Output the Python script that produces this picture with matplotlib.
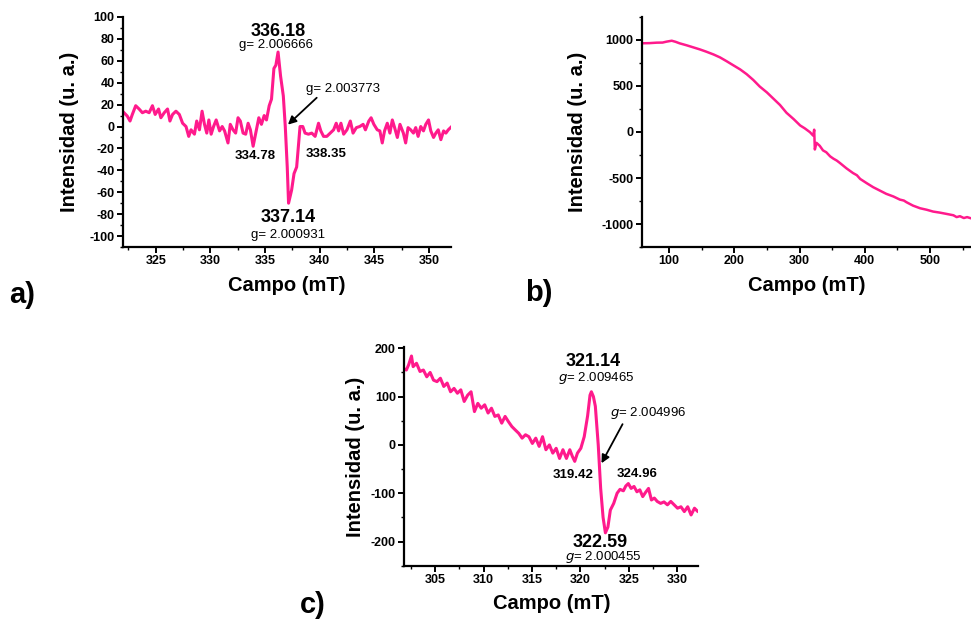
import matplotlib
matplotlib.use("Agg")
import matplotlib.pyplot as plt
from matplotlib.ticker import MultipleLocator, AutoMinorLocator

plt.rcParams['font.family'] = ['Liberation Sans', 'DejaVu Sans']
plt.rcParams['axes.unicode_minus'] = False

PINK = '#FF1A8C'

# ---- (a) EPR spectrum, narrow scan ----
field_a = [322.09, 322.39, 322.64, 322.85, 323.16, 323.47, 323.77, 324.08, 324.39, 324.69,
           324.94, 325.25, 325.46, 325.77, 326.07, 326.29, 326.53, 326.84, 327.15, 327.45,
           327.76, 328.01, 328.22, 328.53, 328.74, 328.99, 329.23, 329.45, 329.66, 329.85,
           330.06, 330.28, 330.52, 330.83, 331.07, 331.29, 331.60, 331.81, 332.06, 332.30,
           332.52, 332.73, 332.98, 333.22, 333.44, 333.65, 333.90, 334.14, 334.42, 334.66,
           334.91, 335.12, 335.37, 335.58, 335.80, 335.98, 336.18, 336.41, 336.66, 336.84,
           337.02, 337.14, 337.42, 337.64, 337.88, 338.19, 338.44, 338.65, 338.96, 339.26,
           339.57, 339.88, 340.09, 340.34, 340.64, 340.95, 341.26, 341.50, 341.72, 341.93,
           342.18, 342.48, 342.79, 343.04, 343.34, 343.65, 343.96, 344.17, 344.48, 344.69,
           344.94, 345.25, 345.49, 345.71, 345.92, 346.17, 346.41, 346.63, 346.84, 347.09,
           347.33, 347.64, 347.85, 348.07, 348.31, 348.56, 348.77, 348.99, 349.23, 349.48,
           349.69, 349.94, 350.15, 350.40, 350.61, 350.83, 351.07, 351.32, 351.53, 351.75,
           352.06]
signal_a = [12.6, 9.5, 5, 11, 19, 16, 12.6, 14, 12.6, 19,
            11, 16, 8, 12.6, 16, 5, 11, 14, 11, 3,
            0, -9, -3, -7, 5, -3, 14, 2, -6, 6,
            -7, 0, 6, -4, 0, -4, -15, 2, -3, -6,
            8, 5, -6, -7, 3, -3, -18, -6, 8, 2,
            10, 6, 19, 25, 53, 56, 68, 46, 28, 0,
            -37, -70, -58, -43, -37, 0, 0, -6, -7, -6,
            -9, 3, -4, -9, -9, -6, -3, 3, -4, 3,
            -7, -3, 5, -6, -1, 0, 2, -3, 5, 8,
            2, -3, -4, -15, -4, 3, -6, 6, -1, -10,
            2, -6, -15, -1, -3, -6, -1, -9, 0, -4,
            2, 6, -4, -10, -6, -3, -12, -4, -6, -3,
            0]

# ---- (b) wide scan ----
field_b = [57, 70, 81, 90, 96, 104, 110, 116, 127, 137, 147, 157, 168, 178, 188, 198,
           209, 219, 229, 239, 250, 260, 270, 280, 291, 301, 308, 316, 321, 322.5,
           323.5, 326, 331, 336, 341, 347, 352, 357, 362, 372, 382, 388, 393, 403,
           413, 423, 433, 444, 454, 460, 464, 474, 485, 495, 505, 515, 526, 536,
           541, 546, 552, 557, 563]
signal_b = [964, 966, 971, 972, 982, 992, 980, 964, 942, 920, 898, 873, 843, 811, 770, 727,
            680, 628, 566, 494, 430, 362, 294, 209, 140, 71, 40, -2, -40, 25,
            -190, -118, -150, -200, -220, -265, -290, -310, -337, -395, -446, -470, -510, -556,
            -600, -636, -672, -701, -735, -745, -763, -800, -829, -845, -865, -876, -891, -905,
            -925, -915, -935, -925, -938]

# ---- (c) narrow scan, second sample ----
field_c = [301.65, 302.01, 302.25, 302.54, 302.71, 303.06, 303.42, 303.77, 304.12, 304.47,
           304.82, 305.18, 305.53, 305.88, 306.23, 306.58, 306.94, 307.29, 307.64, 307.99,
           308.35, 308.70, 309.05, 309.40, 309.75, 310.11, 310.46, 310.81, 311.16, 311.51,
           311.87, 312.22, 312.57, 312.92, 313.27, 313.63, 313.98, 314.33, 314.68, 315.04,
           315.39, 315.74, 316.09, 316.44, 316.80, 317.15, 317.50, 317.85, 318.20, 318.56,
           318.91, 319.18, 319.42, 319.70, 320.05, 320.40, 320.75, 321.00, 321.14, 321.35,
           321.55, 321.85, 322.10, 322.35, 322.59, 322.85, 323.10, 323.45, 323.80, 324.10,
           324.45, 324.70, 324.96, 325.25, 325.55, 325.85, 326.15, 326.45, 326.75, 327.05,
           327.35, 327.65, 327.95, 328.30, 328.65, 329.00, 329.35, 329.70, 330.05, 330.40,
           330.75, 331.10, 331.45, 331.80, 332.10]
signal_c = [159, 155, 166, 184, 162, 169, 152, 155, 141, 150,
            134, 131, 138, 121, 128, 110, 117, 107, 114, 90,
            103, 110, 69, 86, 76, 83, 66, 76, 59, 62,
            45, 59, 48, 38, 31, 24, 14, 21, 17, 3,
            14, -3, 17, -10, 0, -17, -7, -28, -10, -28,
            -10, -24, -34, -17, -7, 17, 60, 103, 110, 100,
            80, 0, -90, -150, -182, -170, -135, -121, -100, -92,
            -95, -85, -80, -90, -86, -97, -93, -107, -98, -90,
            -114, -110, -117, -121, -118, -124, -117, -124, -131, -128,
            -138, -128, -145, -131, -137]

fig = plt.figure(figsize=(9.71, 6.2), dpi=100)

def style_axes(ax, xlim, ylim, xmaj, ymaj, yminor_n=2):
    ax.set_xlim(*xlim)
    ax.set_ylim(*ylim)
    for s in ('top', 'right'):
        ax.spines[s].set_visible(False)
    for s in ('left', 'bottom'):
        ax.spines[s].set_linewidth(1.6)
    ax.xaxis.set_major_locator(MultipleLocator(xmaj))
    ax.yaxis.set_major_locator(MultipleLocator(ymaj))
    ax.xaxis.set_minor_locator(AutoMinorLocator(2))
    ax.yaxis.set_minor_locator(AutoMinorLocator(yminor_n))
    ax.tick_params(which='major', direction='out', length=4, width=1.4,
                   labelsize=9, pad=2)
    ax.tick_params(which='minor', direction='out', length=2.5, width=1.0)
    for lab in ax.get_xticklabels() + ax.get_yticklabels():
        lab.set_fontweight('bold')
    ax.set_xlabel('Campo (mT)', fontsize=14.5, fontweight='bold', labelpad=6)
    ax.set_ylabel('Intensidad (u. a.)', fontsize=14.5, fontweight='bold')

arrow_kw = dict(arrowstyle='-|>', color='black', lw=1.3, mutation_scale=12)
panel_font = ['Liberation Sans Narrow', 'Liberation Sans', 'DejaVu Sans']

# (a)
ax_a = fig.add_axes([0.1267, 0.6016, 0.3378, 0.371])
ax_a.plot(field_a, signal_a, color=PINK, lw=2.2)
style_axes(ax_a, (322, 352), (-110, 100), 5, 20)
ax_a.yaxis.set_label_coords(-0.135, 0.5)
ax_a.text(336.18, 87, '336.18', ha='center', va='center', fontsize=13, fontweight='bold')
ax_a.text(336.0, 74, 'g= 2.006666', ha='center', va='center', fontsize=9.5)
ax_a.text(338.7, 34, 'g= 2.003773', ha='left', va='center', fontsize=9.5)
ax_a.annotate('', xy=(336.9, 0), xytext=(339.9, 28), arrowprops=arrow_kw)
ax_a.text(334.05, -27, '334.78', ha='center', va='center', fontsize=9.5, fontweight='bold')
ax_a.text(340.6, -25, '338.35', ha='center', va='center', fontsize=9.5, fontweight='bold')
ax_a.text(337.1, -83, '337.14', ha='center', va='center', fontsize=13, fontweight='bold')
ax_a.text(337.1, -99, 'g= 2.000931', ha='center', va='center', fontsize=9.5)
fig.text(9 / 971, 1 - 295 / 620, 'a)', fontsize=21, fontweight='bold',
         family=panel_font, ha='left', va='center')

# (b)
ax_b = fig.add_axes([0.6609, 0.6016, 0.3391, 0.371])
ax_b.plot(field_b, signal_b, color=PINK, lw=1.8)
style_axes(ax_b, (58, 563), (-1250, 1250), 100, 500)
ax_b.yaxis.set_label_coords(-0.166, 0.5)
fig.text(525 / 971, 1 - 293 / 620, 'b)', fontsize=21, fontweight='bold',
         family=panel_font, ha='left', va='center')

# (c)
ax_c = fig.add_axes([0.4164, 0.0876, 0.3028, 0.3522])
ax_c.plot(field_c, signal_c, color=PINK, lw=2.2)
style_axes(ax_c, (301.8, 332.2), (-250, 202), 5, 100)
ax_c.yaxis.set_label_coords(-0.135, 0.5)
ax_c.text(321.3, 172, '321.14', ha='center', va='center', fontsize=13, fontweight='bold')
ax_c.text(321.7, 139, '$g$= 2.009465', ha='center', va='center', fontsize=9.5)
ax_c.text(323.1, 67, '$g$= 2.004996', ha='left', va='center', fontsize=9.5)
ax_c.annotate('', xy=(322.05, -43), xytext=(324.5, 48), arrowprops=arrow_kw)
ax_c.text(319.2, -63, '319.42', ha='center', va='center', fontsize=9.5, fontweight='bold')
ax_c.text(325.9, -60, '324.96', ha='center', va='center', fontsize=9.5, fontweight='bold')
ax_c.text(322.1, -202, '322.59', ha='center', va='center', fontsize=13, fontweight='bold')
ax_c.text(322.4, -233, '$g$= 2.000455', ha='center', va='center', fontsize=9.5)
fig.text(300 / 971, 1 - 605 / 620, 'c)', fontsize=21, fontweight='bold',
         family=panel_font, ha='left', va='center')

fig.savefig('out.png', dpi=100)
